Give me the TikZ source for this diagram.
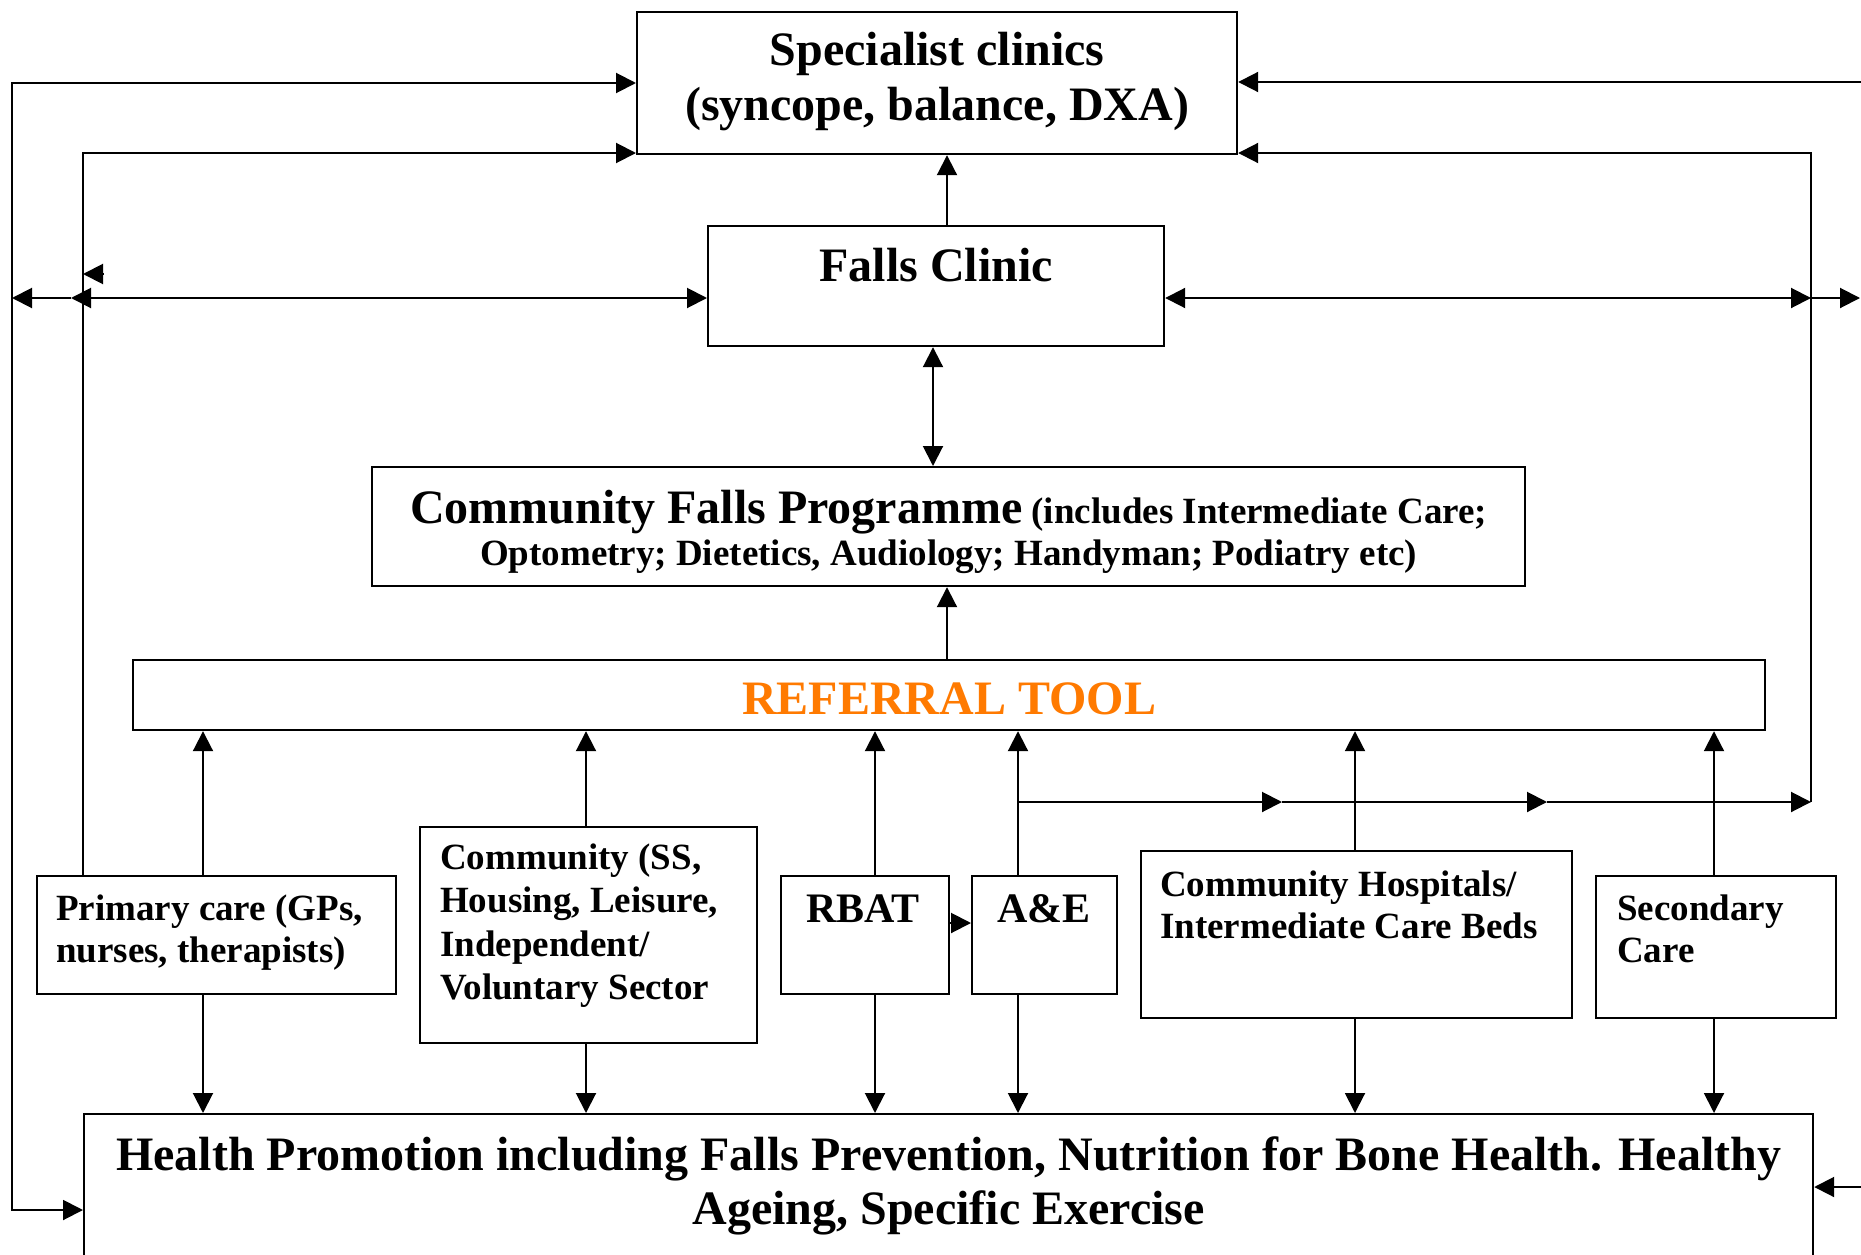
\documentclass[tikz,border=0pt]{standalone}
\usepackage{fontspec}
\setmainfont{Liberation Serif}
\usetikzlibrary{arrows.meta}
\definecolor{reforange}{RGB}{255,122,0}
\newcommand{\mytl}[1]{\begin{tabular}[t]{@{}l@{}}#1\end{tabular}}
\newcommand{\mytc}[1]{\begin{tabular}[t]{@{}c@{}}#1\end{tabular}}
\begin{document}
\begin{tikzpicture}[x=1pt,y=-1pt,
  >={Triangle[length=20pt,width=20pt]},
  box/.style={draw=black,line width=2.2pt,inner sep=0pt,anchor=north west},
  big/.style={font=\fontsize{48}{55}\selectfont\bfseries,inner sep=0pt},
  small/.style={font=\fontsize{37}{42}\selectfont\bfseries,inner sep=0pt},
  mid/.style={font=\fontsize{42}{48}\selectfont\bfseries,inner sep=0pt},
  conn/.style={line width=2pt}]
\useasboundingbox[fill=white] (0,0) rectangle (1861,1255);

% boxes
\node[box,minimum width=600,minimum height=142] (spec) at (636,11) {};
\node[box,minimum width=456,minimum height=120] (falls) at (707,225) {};
\node[box,minimum width=1153,minimum height=119] (cfp) at (371,466) {};
\node[box,minimum width=1632,minimum height=70] (ref) at (132,659) {};
\node[box,minimum width=359,minimum height=118] (pc) at (36,875) {};
\node[box,minimum width=337,minimum height=216] (comm) at (419,826) {};
\node[box,minimum width=168,minimum height=118] (rbat) at (780,875) {};
\node[box,minimum width=145,minimum height=118] (ae) at (971,875) {};
\node[box,minimum width=431,minimum height=167] (ch) at (1140,850) {};
\node[box,minimum width=240,minimum height=142] (sc) at (1595,875) {};
\node[box,minimum width=1729,minimum height=200] (hp) at (83,1113) {};

% texts
\node[big,anchor=base] (specT) at ([yshift=-55]spec.north) {\mytc{Specialist clinics\\(syncope, balance, DXA)}};
\node[big,anchor=base] (fallsT) at ([yshift=-56]falls.north) {Falls Clinic};
\node[small,anchor=base] (cfpT) at ([yshift=-57]cfp.north) {\mytc{{\fontsize{48}{42}\selectfont Community Falls Programme} (includes Intermediate Care;\\Optometry; Dietetics, Audiology; Handyman; Podiatry etc)}};
\node[big,anchor=base,text=reforange] (refT) at ([yshift=-55]ref.north) {REFERRAL TOOL};
\node[big,anchor=base,font=\fontsize{48}{54}\selectfont\bfseries] (hpT) at ([yshift=-57]hp.north) {\mytc{Health Promotion including Falls Prevention, Nutrition for Bone Health. Healthy\\Ageing, Specific Exercise}};
\node[small,anchor=base west] (pcT) at ([xshift=20,yshift=-45]pc.north west) {\mytl{Primary care (GPs,\\nurses, therapists)}};
\node[small,anchor=base west,font=\fontsize{37}{43.5}\selectfont\bfseries] (commT) at ([xshift=21,yshift=-43]comm.north west) {\mytl{Community (SS,\\Housing, Leisure,\\Independent/\\Voluntary Sector}};
\node[mid,anchor=base west] (rbatT) at ([xshift=26,yshift=-47]rbat.north west) {RBAT};
\node[mid,anchor=base west] (aeT) at ([xshift=26,yshift=-47]ae.north west) {A\&E};
\node[small,anchor=base west] (chT) at ([xshift=20,yshift=-46]ch.north west) {\mytl{Community Hospitals/\\Intermediate Care Beds}};
\node[small,anchor=base west] (scT) at ([xshift=22,yshift=-45]sc.north west) {\mytl{Secondary\\Care}};

% helper coordinates
\coordinate (c1) at (203,0);
\coordinate (c2) at (586,0);
\coordinate (c3) at (875,0);
\coordinate (c4) at (1018,0);
\coordinate (c5) at (1355,0);
\coordinate (c6) at (1714,0);
\coordinate (cm) at (947,0);
\coordinate (cf) at (933,0);
\coordinate (ry) at (0,923);
\coordinate (aeb) at (1018,802);
\coordinate (m1) at (1282,802);
\coordinate (m2) at (1547,802);
\coordinate (rv) at (1811,802);
\coordinate (rt) at (1811,153);
\coordinate (fr1) at (1811,298);
\coordinate (fr2) at (1860,298);
\coordinate (fl1) at (71,298);
\coordinate (fl0) at (12,298);
\coordinate (st0) at (104,274);
\coordinate (st1) at (83,274);
\coordinate (lo1) at (12,83);
\coordinate (lo2) at (12,1210);
\coordinate (li1) at (83,153);
\coordinate (tr) at (1861,82);
\coordinate (br) at (1861,1187);

% up to referral tool
\draw[conn,->] (pc.north -| c1) -- (ref.south -| c1);
\draw[conn,->] (comm.north -| c2) -- (ref.south -| c2);
\draw[conn,->] (rbat.north -| c3) -- (ref.south -| c3);
\draw[conn,->] (ae.north -| c4) -- (ref.south -| c4);
\draw[conn,->] (ch.north -| c5) -- (ref.south -| c5);
\draw[conn,->] (sc.north -| c6) -- (ref.south -| c6);
% down to health promotion
\draw[conn,->] (pc.south -| c1) -- (hp.north -| c1);
\draw[conn,->] (comm.south -| c2) -- (hp.north -| c2);
\draw[conn,->] (rbat.south -| c3) -- (hp.north -| c3);
\draw[conn,->] (ae.south -| c4) -- (hp.north -| c4);
\draw[conn,->] (ch.south -| c5) -- (hp.north -| c5);
\draw[conn,->] (sc.south -| c6) -- (hp.north -| c6);
% RBAT to A&E
\draw[conn,->] (rbat.east |- ry) -- (ae.west |- ry);
% centre column
\draw[conn,->] (ref.north -| cm) -- (cfp.south -| cm);
\draw[conn,<->] (falls.south -| cf) -- (cfp.north -| cf);
\draw[conn,->] (falls.north -| cm) -- (spec.south -| cm);
% A&E branch and right loop
\draw[conn,->] (aeb) -- (m1);
\draw[conn,->] (m1) -- (m2);
\draw[conn,->] (m2) -- (rv);
\draw[conn,->] (rv) -- (rt) -- (rt -| spec.east);
% falls horizontal
\draw[conn,<->] (falls.east |- fr1) -- (fr1);
\draw[conn,->] (fr1) -- (fr2);
\draw[conn,<->] (falls.west |- fl1) -- (fl1);
\draw[conn,->] (fl1) -- (fl0);
\draw[conn,->] (st0) -- (st1);
% outer left loop
\draw[conn,<->] (lo1 -| spec.west) -- (lo1) -- (lo2) -- (lo2 -| hp.west);
% inner left loop
\draw[conn,->] (pc.north -| li1) -- (li1) -- (li1 -| spec.west);
% right edge arrows
\draw[conn,->] (tr) -- (tr -| spec.east);
\draw[conn,->] (br) -- (br -| hp.east);
\end{tikzpicture}
\end{document}
